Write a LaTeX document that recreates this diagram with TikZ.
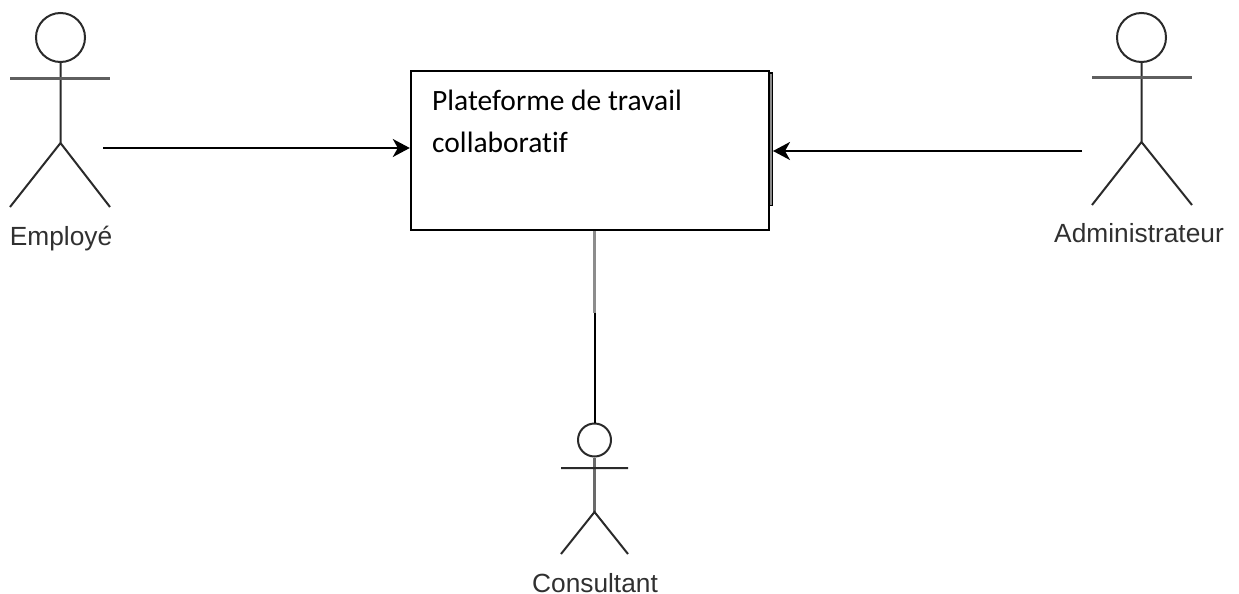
\documentclass[tikz,border=0pt]{standalone}
\usepackage{fontspec}
\setmainfont{Liberation Sans}
\newfontfamily\calib[Ligatures=NoCommon]{Carlito}
\usetikzlibrary{arrows.meta}
\definecolor{lineink}{HTML}{2A2A2A}
\definecolor{labelink}{HTML}{303030}
\tikzset{
  head/.style={draw=lineink,line width=2pt,circle,inner sep=0pt,minimum size=#1},
  limb/.style={draw=lineink,line width=2pt},
  arm/.style={draw=lineink!75,line width=3pt},
  actorlabel/.style={font=\fontsize{26.3}{30}\selectfont,text=labelink,inner sep=0pt,anchor=base},
  platform/.style={draw=black,line width=2.4pt,fill=white,minimum width=358pt,minimum height=159pt,inner sep=0pt},
  flow/.style={draw=black,line width=2pt,-{Stealth[length=17pt,width=18pt,inset=5pt]}}
}
\begin{document}
\begin{tikzpicture}[x=1pt,y=-1pt]
\useasboundingbox (0,0) rectangle (1239,594);
% stacked edge behind the platform box
\draw[black,line width=1pt,fill=black!45] (765,73) rectangle (772.5,205);
\node[platform] (box) at (590,150.5) {};
\node[anchor=base west,inner sep=0pt,align=left,font=\calib\fontsize{29.5}{42}\selectfont] (boxtext) at (432,152) {Plateforme de travail\\collaboratif};
% Employé
\node[head=49pt] (h1) at (60.5,37.5) {};
\coordinate (n1) at (60.5,143);
\coordinate (a1l) at (10,78); \coordinate (a1r) at (110,78);
\coordinate (l1l) at (10,207); \coordinate (l1r) at (110,207);
\draw[limb] (h1) -- (n1) (l1l) -- (n1) -- (l1r);
\draw[arm] (a1l) -- (a1r);
\node[actorlabel] (t1) at (61,245) {Employé};
% Administrateur
\node[head=49pt] (h2) at (1141.5,37.5) {};
\coordinate (n2) at (1141.5,142);
\coordinate (a2l) at (1092,77); \coordinate (a2r) at (1192,77);
\coordinate (l2l) at (1092,205); \coordinate (l2r) at (1192,205);
\draw[limb] (h2) -- (n2) (l2l) -- (n2) -- (l2r);
\draw[arm] (a2l) -- (a2r);
\node[actorlabel] (t2) at (1139,242) {Administrateur};
% Consultant
\node[head=33pt] (h3) at (594.5,440) {};
\coordinate (n3) at (594.5,512);
\coordinate (a3l) at (561,468); \coordinate (a3r) at (628,468);
\coordinate (l3l) at (561,554); \coordinate (l3r) at (628,554);
\draw[draw=lineink!70,line width=3pt] (h3) -- (n3);
\draw[limb] (l3l) -- (n3) -- (l3r) (a3l) -- (a3r);
\node[actorlabel] (t3) at (595,592) {Consultant};
% connectors
\coordinate (e1) at (103,148); \coordinate (e1b) at (box.west |- e1);
\coordinate (e2) at (1082,151); \coordinate (e2b) at (773,151);
\coordinate (mid) at (box.south -| h3);
\coordinate (bend) at (h3 |- 0,313);
\draw[flow] (e1) -- (e1b);
\draw[flow] (e2) -- (e2b);
\draw[draw=black!45,line width=3.5pt] (mid) -- (bend);
\draw[draw=black,line width=2pt] (bend) -- (h3);
\end{tikzpicture}
\end{document}
